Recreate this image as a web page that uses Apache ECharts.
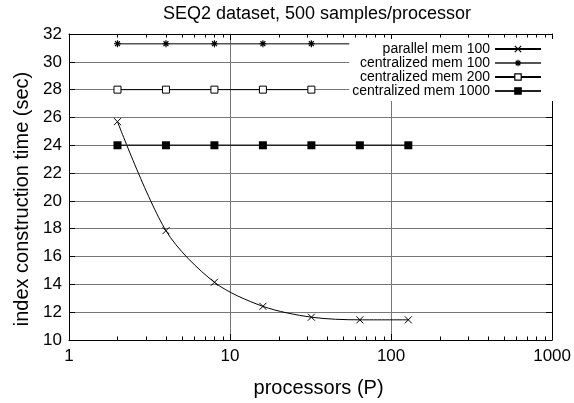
<!DOCTYPE html>
<html><head><meta charset="utf-8">
<script src="https://cdn.jsdelivr.net/npm/echarts@6/dist/echarts.min.js"></script>
<style>html,body{margin:0;padding:0;background:#fff}#c{width:574px;height:403px}</style>
</head><body><div id="c"></div>
<script>
// ---- data ----
const titleText = 'SEQ2 dataset, 500 samples/processor';
const xName = 'processors (P)';
const yName = 'index construction time (sec)';
const seriesNames = ['parallel mem 100', 'centralized mem 100', 'centralized mem 200', 'centralized mem 1000'];
const parallelP = [2, 4, 8, 16, 32, 64, 128];
const parallelMem100 = [25.7, 17.86, 14.15, 12.42, 11.64, 11.45, 11.45];
const centralMem100P = [2, 4, 8, 16, 32, 64];
const centralMem100 = [31.3, 31.3, 31.3, 31.3, 31.3, 31.3];
const centralMem200P = [2, 4, 8, 16, 32];
const centralMem200 = [28, 28, 28, 28, 28];
const centralMem1000P = [2, 4, 8, 16, 32, 64, 128];
const centralMem1000 = [24, 24, 24, 24, 24, 24, 24];
const xMin = 1, xMax = 1000;
const yMin = 10, yMax = 32, yStep = 2;
const minorTickValues = [2, 3, 4, 5, 6, 7, 8, 9, 20, 30, 40, 50, 60, 70, 80, 90, 200, 300, 400, 500, 600, 700, 800, 900];

const pair = (xs, ys) => xs.map((x, i) => [x, ys[i]]);
const FONT = 'Liberation Sans, Arial, Helvetica, sans-serif';
const crossPath = 'path://M0,0L10,10M10,0L0,10';
const starPath = 'path://M0,5L10,5M5,0L5,10M1.5,1.5L8.5,8.5M8.5,1.5L1.5,8.5';

const chart = echarts.init(document.getElementById('c'), null, {renderer: 'canvas'});

const baseX = {
  type: 'log', logBase: 10, min: xMin, max: xMax,
  axisLine: {show: true, lineStyle: {color: '#000', width: 1}},
  axisTick: {show: true, inside: true, length: 6, lineStyle: {color: '#000'}},
  minorTick: {show: false}
};
const baseY = {
  type: 'value', min: yMin, max: yMax, interval: yStep,
  axisLine: {show: true, lineStyle: {color: '#000', width: 1}},
  axisTick: {show: true, inside: true, length: 6, lineStyle: {color: '#000'}}
};

chart.setOption({
  animation: false,
  backgroundColor: '#fff',
  textStyle: {fontFamily: FONT},
  title: {
    text: titleText, left: 317, top: 5, textAlign: 'center', padding: 0,
    textStyle: {fontFamily: FONT, fontSize: 18, fontWeight: 'normal', color: '#000'}
  },
  grid: {left: 69, right: 19, top: 34, bottom: 60, containLabel: false},
  legend: {
    orient: 'vertical', right: 19, top: 39, align: 'right',
    itemWidth: 46, itemHeight: 8, itemGap: 0,
    padding: [3, 13, 3, 3],
    backgroundColor: '#fff', z: 10,
    itemStyle: {borderWidth: 1.2},
    textStyle: {fontFamily: FONT, fontSize: 14, color: '#000', lineHeight: 14},
    data: seriesNames
  },
  xAxis: [
    Object.assign({}, baseX, {
      position: 'bottom',
      name: xName, nameLocation: 'middle', nameGap: 38,
      nameTextStyle: {fontFamily: FONT, fontSize: 20, color: '#000', padding: [0, 0, 0, 16]},
      axisLabel: {show: true, margin: 8, fontFamily: FONT, fontSize: 17, color: '#000',
        formatter: v => String(v)},
      splitLine: {show: true, lineStyle: {color: '#777', width: 1}}
    }),
    Object.assign({}, baseX, {
      position: 'top', axisLabel: {show: false}, splitLine: {show: false}
    })
  ],
  yAxis: [
    Object.assign({}, baseY, {
      position: 'left',
      name: yName, nameLocation: 'middle', nameGap: 24,
      nameTextStyle: {fontFamily: FONT, fontSize: 20, color: '#000', padding: [0, 24, 0, 0]},
      axisLabel: {show: true, margin: 7, fontFamily: FONT, fontSize: 17, color: '#000'},
      splitLine: {show: true, lineStyle: {color: '#777', width: 1}}
    }),
    Object.assign({}, baseY, {
      position: 'right', axisLabel: {show: false}, splitLine: {show: false}
    })
  ],
  series: [
    {
      name: seriesNames[0], type: 'line', xAxisIndex: 0, yAxisIndex: 0,
      data: pair(parallelP, parallelMem100), smooth: 0.3,
      symbol: crossPath, symbolSize: 7,
      lineStyle: {color: '#000', width: 1},
      itemStyle: {color: '#000', borderColor: '#000', borderWidth: 1}, z: 3
    },
    {
      name: seriesNames[1], type: 'line', xAxisIndex: 0, yAxisIndex: 0,
      data: pair(centralMem100P, centralMem100),
      symbol: starPath, symbolSize: 7,
      lineStyle: {color: '#555', width: 1.5},
      itemStyle: {color: '#000', borderColor: '#000', borderWidth: 1.2}, z: 3
    },
    {
      name: seriesNames[2], type: 'line', xAxisIndex: 0, yAxisIndex: 0,
      data: pair(centralMem200P, centralMem200),
      symbol: 'rect', symbolSize: 7,
      lineStyle: {color: '#000', width: 1},
      itemStyle: {color: '#fff', borderColor: '#000', borderWidth: 1}, z: 3
    },
    {
      name: seriesNames[3], type: 'line', xAxisIndex: 0, yAxisIndex: 0,
      data: pair(centralMem1000P, centralMem1000),
      symbol: 'rect', symbolSize: 8,
      lineStyle: {color: '#222', width: 1.5},
      itemStyle: {color: '#000', borderColor: '#000', borderWidth: 0}, z: 3
    }
  ]
});

// minor log ticks on bottom and top borders, placed through the axis scale
const yBottom = chart.convertToPixel({yAxisIndex: 0}, yMin);
const yTop = chart.convertToPixel({yAxisIndex: 0}, yMax);
const ticks = [];
minorTickValues.forEach(v => {
  const x = Math.round(chart.convertToPixel({xAxisIndex: 0}, v)) + 0.5;
  ticks.push({type: 'line', silent: true, z: 5, shape: {x1: x, y1: yBottom, x2: x, y2: yBottom - 3.5}, style: {stroke: '#000', lineWidth: 1}});
  ticks.push({type: 'line', silent: true, z: 5, shape: {x1: x, y1: yTop, x2: x, y2: yTop + 3.5}, style: {stroke: '#000', lineWidth: 1}});
});
chart.setOption({graphic: ticks});
</script>
</body></html>
